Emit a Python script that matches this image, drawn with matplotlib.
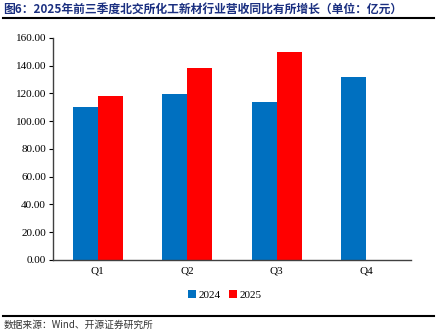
import matplotlib
matplotlib.use('Agg')
import matplotlib.pyplot as plt
import numpy as np

quarters = ['Q1', 'Q2', 'Q3', 'Q4']
rev_2024 = [110.0, 119.5, 114.0, 131.5]
rev_2025 = [118.0, 138.5, 149.5, np.nan]

cjk = ['Noto Sans CJK SC', 'DejaVu Sans']
num_font = 'Liberation Serif'

fig = plt.figure(figsize=(4.38, 3.32), dpi=100)
ax = fig.add_axes([0.121, 0.217, 0.817, 0.669])

x = np.arange(len(quarters))
w = 0.28
ax.bar(x - w/2, rev_2024, w, color='#0070C0', label='2024')
ax.bar(x + w/2, rev_2025, w, color='#FF0000', label='2025')

ax.set_xlim(-0.5, 3.5)
ax.set_ylim(0, 160)
ax.set_yticks(np.arange(0, 161, 20))
ax.set_yticklabels(['%.2f' % v for v in np.arange(0, 161, 20)], fontfamily=num_font, fontsize=8)
ax.set_xticks(x)
ax.set_xticklabels(quarters, fontfamily=num_font, fontsize=8)
ax.tick_params(axis='x', length=0, pad=5)
ax.tick_params(axis='y', length=3, width=0.8, direction='out', pad=2)
for s in ['top', 'right']:
    ax.spines[s].set_visible(False)
for s in ['left', 'bottom']:
    ax.spines[s].set_color('#404040')
    ax.spines[s].set_linewidth(1.0)

ax.legend(loc='upper center', bbox_to_anchor=(0.48, -0.09), ncol=2, frameon=False,
          prop={'family': num_font, 'size': 8}, handlelength=0.7, handleheight=0.7,
          handletextpad=0.2, columnspacing=0.8)

# overlay axes for title/source rules
over = fig.add_axes([0, 0, 1, 1], facecolor='none')
over.set_xlim(0, 1)
over.set_ylim(0, 1)
over.axis('off')
over.plot([0.007, 0.99], [0.946, 0.946], color='black', lw=1.5)
over.plot([0.007, 0.99], [0.048, 0.048], color='black', lw=1.5)

fig.text(0.008, 0.972, '图6：2025年前三季度北交所化工新材行业营收同比有所增长（单位：亿元）',
         fontfamily=cjk, fontsize=8.5, fontweight='bold', color='#1A2F80', va='center')
fig.text(0.008, 0.022, '数据来源：Wind、开源证券研究所', fontfamily=cjk, fontsize=7,
         color='#333333', va='center')

fig.savefig('out.png', dpi=100)
